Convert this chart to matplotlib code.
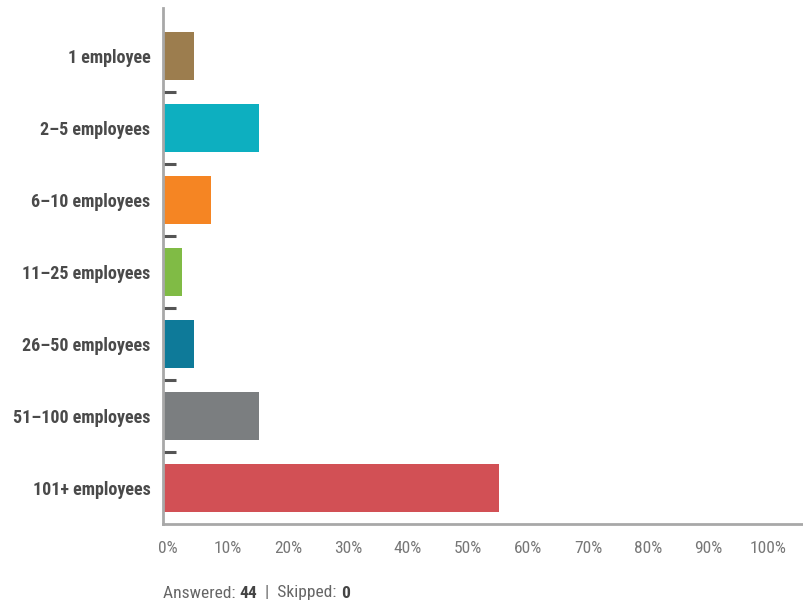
import matplotlib
matplotlib.use("Agg")
import matplotlib.pyplot as plt
from matplotlib.transforms import ScaledTranslation
from matplotlib import font_manager

categories = ["1 employee", "2–5 employees", "6–10 employees", "11–25 employees",
              "26–50 employees", "51–100 employees", "101+ employees"]
values = [5.2, 16.0, 8.0, 3.2, 5.2, 16.0, 56.0]
colors = ["#9C7D4E", "#0DAFC0", "#F58523", "#80BB45", "#0E7A99", "#7B7E80", "#D25055"]
xticks = [0, 10, 20, 30, 40, 50, 60, 70, 80, 90, 100]
xticklabels = [f"{t}%" for t in xticks]
answered = 44
skipped = 0

fl = font_manager.fontManager.ttflist
names = {f.name for f in fl}
family = None
stretch = "normal"
for cand in ["Roboto Condensed", "Liberation Sans Narrow", "Open Sans Condensed", "Arial Narrow"]:
    if cand in names:
        family = cand
        break
if family is None:
    cond = [f for f in fl if f.name == "DejaVu Sans" and str(f.stretch) in ("condensed", "semi-condensed", "500")]
    if cond:
        family = "DejaVu Sans"
        stretch = "condensed"
if family is None:
    family = "Roboto"
lab_size = 13.0 if family != "Roboto" else 11.3
plt.rcParams["font.family"] = [family, "DejaVu Sans"]
plt.rcParams["font.stretch"] = stretch

fig = plt.figure(figsize=(8.04, 6.05), dpi=100)
ax = fig.add_axes([163/804, (605-524)/605, 641/804, (524-8)/605])

ypos = list(range(len(categories)))
ax.barh(ypos, values, height=0.667, color=colors, zorder=2)
ax.set_ylim(6.5, -0.667)
ax.set_xlim(0, 641/6.0)

ax.set_yticks(ypos)
ax.set_yticklabels(categories, fontsize=lab_size, fontweight="bold", color="#4a4a4a",
                   fontstretch=stretch)
ax.tick_params(axis="y", which="major", length=0, pad=9)
ax.set_yticks([i + 0.5 for i in range(len(categories) - 1)], minor=True)
ax.tick_params(axis="y", which="minor", direction="in", length=9, width=2.2, color="#555555")

ax.set_xticks(xticks)
ax.set_xticklabels(xticklabels, fontsize=12.5, color="#777777", fontstretch=stretch)
ax.tick_params(axis="x", length=0, pad=12)
for lab in ax.get_xticklabels():
    lab.set_transform(lab.get_transform() + ScaledTranslation(5/100, 0, fig.dpi_scale_trans))

for s in ["top", "right"]:
    ax.spines[s].set_visible(False)
for s in ["left", "bottom"]:
    ax.spines[s].set_color("#a8a8a8")
    ax.spines[s].set_linewidth(2)

fs = 12.6
t1 = fig.text(163/804, 1 - 593/605, "Answered: ", fontsize=fs, color="#666666", va="center")
t2 = ax.annotate(str(answered), xy=(1, 0), xycoords=t1, fontsize=fs, color="#444444",
                 fontweight="bold", va="bottom")
t3 = ax.annotate("  |  Skipped: ", xy=(1, 0), xycoords=t2, fontsize=fs, color="#666666", va="bottom")
t4 = ax.annotate(str(skipped), xy=(1, 0), xycoords=t3, fontsize=fs, color="#444444",
                 fontweight="bold", va="bottom")

fig.savefig("out.png", dpi=100)
